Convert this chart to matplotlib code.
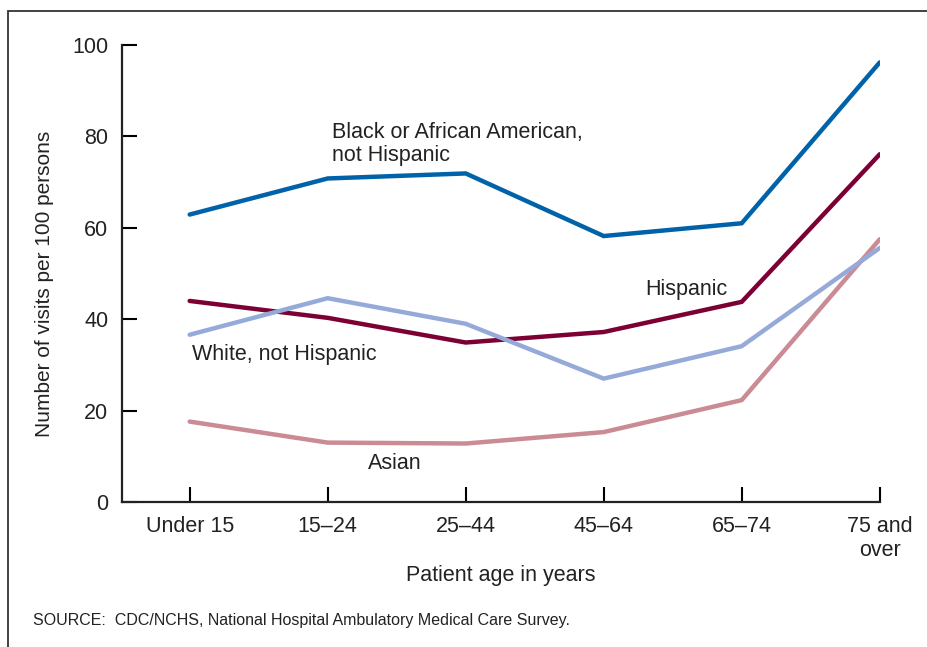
import matplotlib
matplotlib.use("Agg")
import matplotlib.pyplot as plt
from matplotlib.patches import Rectangle

plt.rcParams['font.family'] = ['Liberation Sans', 'DejaVu Sans']

# categories and series (visits per 100 persons)
ages = ['Under 15', '15\u201324', '25\u201344', '45\u201364', '65\u201374', '75 and\nover']
black = [62.9, 70.8, 71.9, 58.2, 61.0, 96.2]
hispanic = [44.0, 40.3, 34.9, 37.2, 43.8, 76.1]
white = [36.6, 44.6, 39.0, 27.0, 34.1, 55.6]
asian = [17.6, 13.0, 12.8, 15.3, 22.3, 57.5]

fs = 15.5
txt = '#222222'

fig = plt.figure(figsize=(9.28, 6.47), dpi=100)
ax = fig.add_axes([0.1315, 0.2241, 0.8165, 0.7063])

x = range(len(ages))
lw = 3.2
ax.plot(x, black, color='#0062A9', lw=lw, solid_capstyle='round', solid_joinstyle='miter')
ax.plot(x, hispanic, color='#7D0034', lw=lw, solid_capstyle='round', solid_joinstyle='miter')
ax.plot(x, asian, color='#CA8B95', lw=lw, solid_capstyle='round', solid_joinstyle='miter')
ax.plot(x, white, color='#96AADA', lw=lw, solid_capstyle='round', solid_joinstyle='miter')

ax.set_xlim(-0.49, 5)
ax.set_ylim(0, 100)
ax.set_yticks([0, 20, 40, 60, 80, 100])
ax.set_xticks(list(x))
ax.set_xticklabels(ages, fontsize=fs, linespacing=1.2, color=txt)
ax.tick_params(axis='y', labelsize=fs, labelcolor=txt, direction='in', length=11, width=1.5, pad=10)
ax.tick_params(axis='x', direction='in', length=11, width=1.5, pad=10)
for side in ['top', 'right']:
    ax.spines[side].set_visible(False)
for side in ['left', 'bottom']:
    ax.spines[side].set_linewidth(1.6)
    ax.spines[side].set_color('#222222')

ax.set_ylabel('Number of visits per 100 persons', fontsize=15, color=txt)
ax.yaxis.set_label_coords(-0.09, 0.477)
ax.set_xlabel('Patient age in years', fontsize=fs, color=txt, labelpad=3)

ax.text(1.03, 78.4, 'Black or African American,\nnot Hispanic', fontsize=fs,
        va='center', ha='left', color=txt, linespacing=1.15)
ax.text(3.3, 46.6, 'Hispanic', fontsize=fs, va='center', ha='left', color=txt)
ax.text(0.02, 32.2, 'White, not Hispanic', fontsize=fs, va='center', ha='left', color=txt)
ax.text(1.29, 8.5, 'Asian', fontsize=fs, va='center', ha='left', color=txt)

fig.text(33 / 928, 1 - 620 / 647, 'SOURCE:  CDC/NCHS, National Hospital Ambulatory Medical Care Survey.',
         fontsize=11.5, va='center', ha='left', color=txt)

# outer frame, runs off the right and bottom edges
fig.patches.append(Rectangle((8 / 928, -0.1), 1.2, 1 - 11 / 647 + 0.1, transform=fig.transFigure,
                             fill=False, edgecolor='#333333', lw=1.3))

fig.savefig('out.png', dpi=100)
